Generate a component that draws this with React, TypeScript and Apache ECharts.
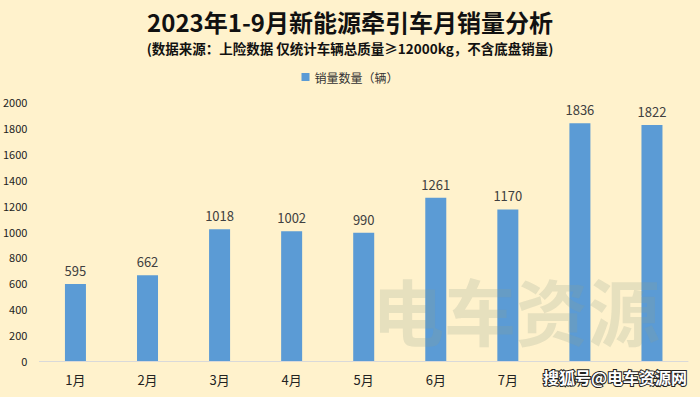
import React, { useEffect, useRef } from "react";
import * as echarts from "echarts";

const categories = ["1月", "2月", "3月", "4月", "5月", "6月", "7月", "8月", "9月"];
const salesValues = [595, 662, 1018, 1002, 990, 1261, 1170, 1836, 1822];
const seriesName = "销量数量（辆）";
const titleText = "2023年1-9月新能源牵引车月销量分析";
const subtitleText = "(数据来源：上险数据 仅统计车辆总质量≥12000kg，不含底盘销量)";

const FONT = "'Noto Sans CJK SC', 'Noto Sans', sans-serif";

export default function App() {
  const ref = useRef<HTMLDivElement>(null);
  useEffect(() => {
    if (!ref.current) return;
    const chart = echarts.init(ref.current, undefined, { renderer: "svg" });
    chart.setOption({
      animation: false,
      backgroundColor: "#FFF2CC",
      title: [
        {
          text: titleText,
          left: "center",
          top: 4,
          textStyle: { fontFamily: FONT, fontSize: 24, fontWeight: "bold", color: "#111" },
        },
        {
          text: subtitleText,
          left: "center",
          top: 36,
          textStyle: { fontFamily: FONT, fontSize: 13.5, fontWeight: "bold", color: "#111" },
        },
      ],
      legend: {
        top: 66,
        left: "center",
        itemWidth: 8,
        itemHeight: 8,
        icon: "rect",
        itemGap: 4,
        textStyle: { fontFamily: FONT, fontSize: 12, color: "#333" },
        data: [seriesName],
      },
      grid: { left: 39, right: 12, top: 102, bottom: 36, containLabel: false },
      xAxis: {
        type: "category",
        data: categories,
        axisLine: { lineStyle: { color: "#D9D9D9", width: 1 } },
        axisTick: { show: false },
        axisLabel: { fontFamily: FONT, fontSize: 13, color: "#222", margin: 12 },
      },
      yAxis: {
        type: "value",
        min: 0,
        max: 2000,
        interval: 200,
        splitLine: { show: false },
        axisLine: { show: false },
        axisTick: { show: false },
        axisLabel: {
          fontFamily: FONT,
          fontSize: 11,
          color: "#222",
          margin: 12,
          formatter: (v: number) => String(v),
        },
      },
      series: [
        {
          name: seriesName,
          type: "bar",
          data: salesValues,
          barWidth: 21,
          itemStyle: { color: "#5B9BD5" },
          label: {
            show: true,
            position: "top",
            distance: 7,
            fontFamily: FONT,
            fontSize: 13,
            color: "#404040",
          },
          z: 2,
        },
      ],
      graphic: [
        {
          type: "text",
          left: 372,
          top: 272,
          z: 10,
          silent: true,
          style: {
            text: "电车资源",
            fontFamily: FONT,
            fontSize: 72,
            fontWeight: "bold",
            fill: "rgba(140,160,140,0.22)",
          },
        },
        {
          type: "text",
          right: 12,
          top: 368,
          z: 11,
          silent: true,
          style: {
            text: "搜狐号@电车资源网",
            fontFamily: FONT,
            fontSize: 16,
            fontWeight: "bold",
            fill: "#ffffff",
            stroke: "#222",
            lineWidth: 2,
          },
        },
      ],
    });
    return () => chart.dispose();
  }, []);
  return <div ref={ref} style={{ width: 700, height: 397, position: "absolute", left: 0, top: 0 }} />;
}
